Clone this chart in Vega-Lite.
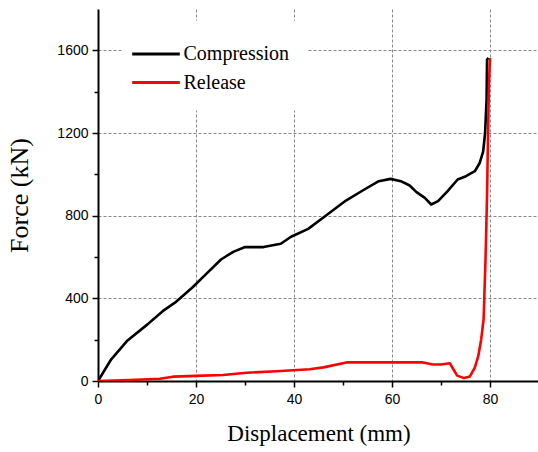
{
  "$schema": "https://vega.github.io/schema/vega-lite/v6.json",
  "width": 441,
  "height": 372,
  "autosize": {"type": "none"},
  "padding": {"left": 98, "top": 9, "right": 0, "bottom": 71},
  "background": "white",
  "config": {"view": {"stroke": null}},
  "data": {
    "values": [
      {"series": "Compression", "i": 0, "d": 0, "f": 0},
      {"series": "Compression", "i": 1, "d": 2.7, "f": 105},
      {"series": "Compression", "i": 2, "d": 5.9, "f": 193},
      {"series": "Compression", "i": 3, "d": 10.1, "f": 274},
      {"series": "Compression", "i": 4, "d": 13.2, "f": 338},
      {"series": "Compression", "i": 5, "d": 15.7, "f": 379},
      {"series": "Compression", "i": 6, "d": 19.2, "f": 451},
      {"series": "Compression", "i": 7, "d": 22.0, "f": 516},
      {"series": "Compression", "i": 8, "d": 25.1, "f": 588},
      {"series": "Compression", "i": 9, "d": 27.6, "f": 625},
      {"series": "Compression", "i": 10, "d": 30.0, "f": 648},
      {"series": "Compression", "i": 11, "d": 33.8, "f": 648},
      {"series": "Compression", "i": 12, "d": 37.3, "f": 664},
      {"series": "Compression", "i": 13, "d": 39.4, "f": 698},
      {"series": "Compression", "i": 14, "d": 42.9, "f": 736},
      {"series": "Compression", "i": 15, "d": 46.4, "f": 798},
      {"series": "Compression", "i": 16, "d": 50.6, "f": 873},
      {"series": "Compression", "i": 17, "d": 54.1, "f": 923},
      {"series": "Compression", "i": 18, "d": 57.3, "f": 967},
      {"series": "Compression", "i": 19, "d": 59.7, "f": 978},
      {"series": "Compression", "i": 20, "d": 61.8, "f": 967},
      {"series": "Compression", "i": 21, "d": 63.6, "f": 946},
      {"series": "Compression", "i": 22, "d": 65.0, "f": 914},
      {"series": "Compression", "i": 23, "d": 66.7, "f": 886},
      {"series": "Compression", "i": 24, "d": 68.0, "f": 854},
      {"series": "Compression", "i": 25, "d": 69.4, "f": 870},
      {"series": "Compression", "i": 26, "d": 71.3, "f": 918},
      {"series": "Compression", "i": 27, "d": 73.4, "f": 975},
      {"series": "Compression", "i": 28, "d": 75.1, "f": 991},
      {"series": "Compression", "i": 29, "d": 76.9, "f": 1015},
      {"series": "Compression", "i": 30, "d": 77.9, "f": 1055},
      {"series": "Compression", "i": 31, "d": 78.6, "f": 1110},
      {"series": "Compression", "i": 32, "d": 79.0, "f": 1200},
      {"series": "Compression", "i": 33, "d": 79.3, "f": 1362},
      {"series": "Compression", "i": 34, "d": 79.4, "f": 1555},
      {"series": "Compression", "i": 35, "d": 79.7, "f": 1563},
      {"series": "Release", "i": 0, "d": 0, "f": 0},
      {"series": "Release", "i": 1, "d": 6.5, "f": 5},
      {"series": "Release", "i": 2, "d": 12.6, "f": 11},
      {"series": "Release", "i": 3, "d": 15.3, "f": 21},
      {"series": "Release", "i": 4, "d": 20.0, "f": 25},
      {"series": "Release", "i": 5, "d": 25.5, "f": 29},
      {"series": "Release", "i": 6, "d": 30.3, "f": 40},
      {"series": "Release", "i": 7, "d": 36.4, "f": 47},
      {"series": "Release", "i": 8, "d": 43.2, "f": 57},
      {"series": "Release", "i": 9, "d": 46.0, "f": 66},
      {"series": "Release", "i": 10, "d": 50.7, "f": 90},
      {"series": "Release", "i": 11, "d": 66.3, "f": 90},
      {"series": "Release", "i": 12, "d": 68.4, "f": 80},
      {"series": "Release", "i": 13, "d": 70.0, "f": 80},
      {"series": "Release", "i": 14, "d": 71.8, "f": 86},
      {"series": "Release", "i": 15, "d": 73.3, "f": 26},
      {"series": "Release", "i": 16, "d": 74.7, "f": 14},
      {"series": "Release", "i": 17, "d": 75.9, "f": 22},
      {"series": "Release", "i": 18, "d": 76.9, "f": 65},
      {"series": "Release", "i": 19, "d": 77.6, "f": 120},
      {"series": "Release", "i": 20, "d": 78.2, "f": 201},
      {"series": "Release", "i": 21, "d": 78.7, "f": 300},
      {"series": "Release", "i": 22, "d": 79.1, "f": 600},
      {"series": "Release", "i": 23, "d": 79.4, "f": 900},
      {"series": "Release", "i": 24, "d": 79.6, "f": 1200},
      {"series": "Release", "i": 25, "d": 79.8, "f": 1450},
      {"series": "Release", "i": 26, "d": 80.0, "f": 1563}
    ]
  },
  "mark": {"type": "line", "strokeWidth": 2.6, "strokeJoin": "round", "clip": true},
  "encoding": {
    "x": {
      "field": "d", "type": "quantitative",
      "scale": {"domain": [0, 90], "nice": false, "zero": false},
      "axis": {
        "title": "Displacement (mm)",
        "titleFont": "Liberation Serif", "titleFontSize": 23, "titleFontWeight": "normal", "titleColor": "black",
        "titlePadding": 16,
        "values": [0, 10, 20, 30, 40, 50, 60, 70, 80, 90],
        "labelExpr": "datum.value % 20 === 0 ? datum.label : ''",
        "labelFont": "Liberation Sans", "labelFontSize": 14, "labelColor": "black", "labelPadding": 5,
        "labelFlush": false,
        "domainColor": "black", "domainWidth": 2,
        "tickColor": "black", "tickWidth": 1.5,
        "tickSize": {"condition": {"test": "datum.value % 20 === 0", "value": 6}, "value": 4},
        "grid": true, "gridColor": "#888888", "gridDash": [3, 2], "gridWidth": 1,
        "gridOpacity": {"condition": {"test": "datum.value % 20 === 0 && datum.value > 0", "value": 1}, "value": 0}
      }
    },
    "y": {
      "field": "f", "type": "quantitative",
      "scale": {"domain": [0, 1800], "nice": false},
      "axis": {
        "title": "Force (kN)",
        "titleFont": "Liberation Serif", "titleFontSize": 26, "titleFontWeight": "normal", "titleColor": "black",
        "titlePadding": 24,
        "values": [0, 200, 400, 600, 800, 1000, 1200, 1400, 1600],
        "labelExpr": "datum.value % 400 === 0 ? datum.label : ''",
        "format": "d",
        "labelFont": "Liberation Sans", "labelFontSize": 14, "labelColor": "black", "labelPadding": 4,
        "domainColor": "black", "domainWidth": 2,
        "tickColor": "black", "tickWidth": 1.5,
        "tickSize": {"condition": {"test": "datum.value % 400 === 0", "value": 6}, "value": 4},
        "grid": true, "gridColor": "#888888", "gridDash": [3, 2], "gridWidth": 1,
        "gridOpacity": {"condition": {"test": "datum.value % 400 === 0 && datum.value > 0", "value": 1}, "value": 0}
      }
    },
    "color": {
      "field": "series", "type": "nominal",
      "scale": {"domain": ["Compression", "Release"], "range": ["#000000", "#ff0000"]},
      "legend": {
        "title": null,
        "orient": "none",
        "legendX": 24.5,
        "legendY": 11.5,
        "padding": 18,
        "fillColor": "white",
        "symbolType": "M-1.7,0L1.7,0",
        "symbolSize": 784,
        "symbolStrokeWidth": 3,
        "labelFont": "Liberation Serif",
        "labelFontSize": 20,
        "labelColor": "black",
        "labelOffset": 12,
        "rowPadding": 2.5
      }
    },
    "order": {"field": "i", "type": "quantitative"}
  }
}
